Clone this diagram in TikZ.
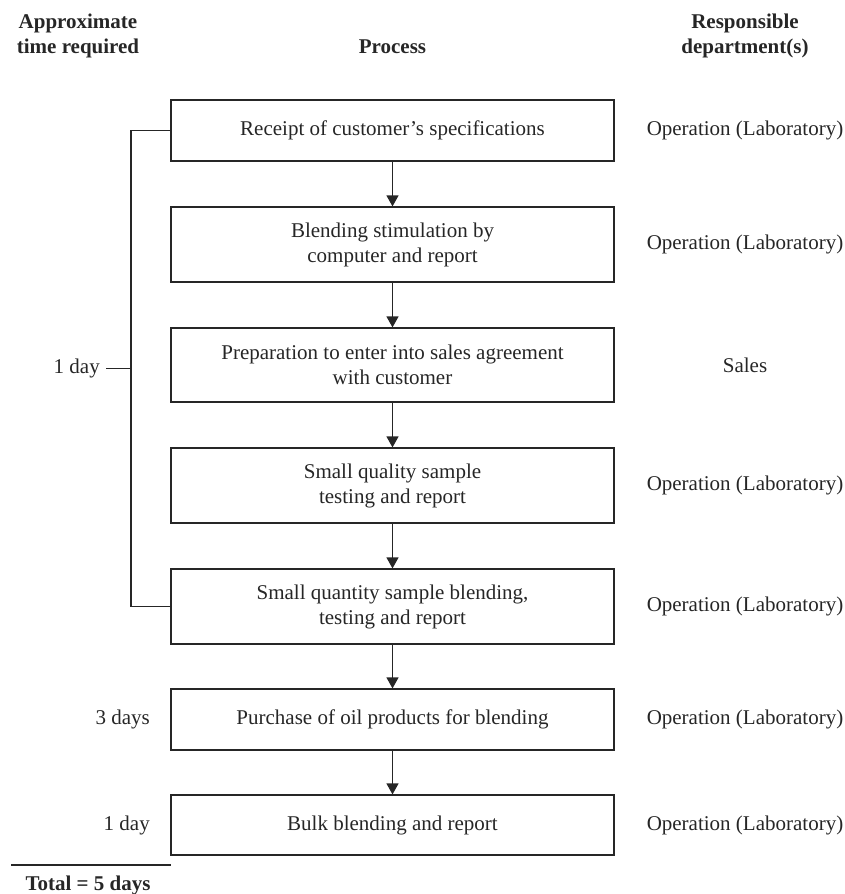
\documentclass[tikz,border=0pt]{standalone}
\usepackage{fontspec}
\setmainfont{Liberation Serif}
\usetikzlibrary{arrows.meta}

\definecolor{ink}{HTML}{262626}

\tikzset{
  procbox/.style={draw=ink, line width=1.2pt, minimum width=443pt, inner sep=0pt,
                  align=center, text=ink, font=\fontsize{21}{25}\selectfont},
  lbl/.style={inner sep=0pt, text=ink, font=\fontsize{21}{25}\selectfont, align=center},
  hdr/.style={inner sep=0pt, text=ink, font=\fontsize{21}{25}\selectfont\bfseries, align=center},
  link/.style={draw=ink, line width=1.2pt},
  flow/.style={link, -{Triangle[length=11pt,width=12pt]}}
}

\begin{document}
\begin{tikzpicture}[x=1pt, y=-1pt]
  \useasboundingbox (0,0) rectangle (845,894);

  % column headings
  \node[hdr] (htime) at (78,36) {Approximate\\time required};
  \node[hdr, anchor=base] (hproc) at (392.5,53) {Process};
  \node[hdr] (hdept) at (745,36) {Responsible\\department(s)};

  % process steps
  \node[procbox, minimum height=61pt] (s1) at (392.5,130.5) {Receipt of customer’s specifications};
  \node[procbox, minimum height=75pt] (s2) at (392.5,244.5) {Blending stimulation by\\computer and report};
  \node[procbox, minimum height=74pt] (s3) at (392.5,365) {Preparation to enter into sales agreement\\with customer};
  \node[procbox, minimum height=75pt] (s4) at (392.5,485.5) {Small quality sample\\testing and report};
  \node[procbox, minimum height=75pt] (s5) at (392.5,606.5) {Small quantity sample blending,\\testing and report};
  \node[procbox, minimum height=61pt] (s6) at (392.5,719.5) {Purchase of oil products for blending};
  \node[procbox, minimum height=60pt] (s7) at (392.5,825) {Bulk blending and report};

  \foreach \a/\b in {s1/s2, s2/s3, s3/s4, s4/s5, s5/s6, s6/s7}
    \draw[flow] (\a.south) -- (\b.north);

  % responsible departments
  \node[lbl] (d1) at (745,130.5) {Operation (Laboratory)};
  \node[lbl] (d2) at (745,244.5) {Operation (Laboratory)};
  \node[lbl] (d3) at (745,365) {Sales};
  \node[lbl] (d4) at (745,485.5) {Operation (Laboratory)};
  \node[lbl] (d5) at (745,606.5) {Operation (Laboratory)};
  \node[lbl] (d6) at (745,719.5) {Operation (Laboratory)};
  \node[lbl] (d7) at (745,825) {Operation (Laboratory)};

  % time bracket over the first five steps
  \coordinate (bt) at (131,130.5);
  \coordinate (bb) at (131,606.5);
  \coordinate (bm) at (131,368.5);
  \draw[link] (s1.west) -- (bt) -- (bb) -- (s5.west);
  \node[lbl, anchor=east] (t1) at (100,368.5) {1 day};
  \draw[link] (t1.east) ++(6,0) coordinate (tick) -- (bm);

  % remaining times
  \node[lbl, anchor=east] (t2) at (150,719.5) {3 days};
  \node[lbl, anchor=east] (t3) at (150,825) {1 day};

  % total
  \coordinate (ra) at (11,865);
  \coordinate (rb) at (171,865);
  \draw[link] (ra) -- (rb);
  \node[hdr, anchor=base] (total) at (88,890) {Total = 5 days};
\end{tikzpicture}
\end{document}
